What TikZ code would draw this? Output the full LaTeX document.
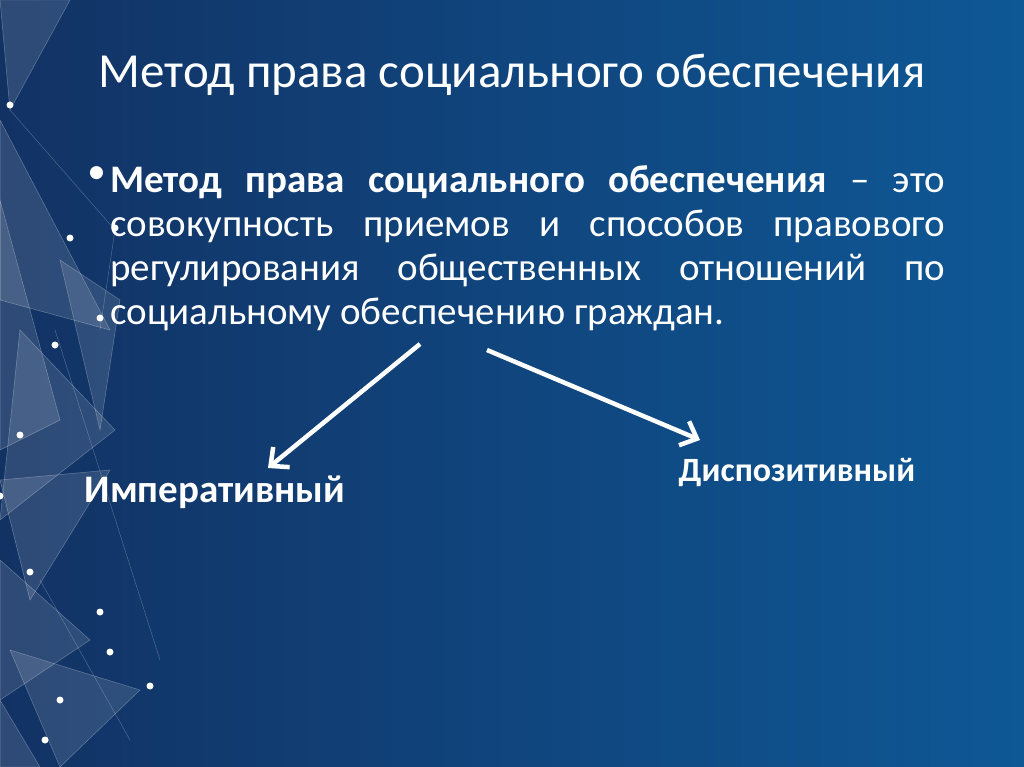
\documentclass[tikz,border=0pt]{standalone}
\usepackage{fontspec}
\setmainfont{Carlito}
\usetikzlibrary{arrows.meta}
\begin{document}
\begin{tikzpicture}[x=1pt,y=-1pt,
  arr/.style={draw=white,line width=4.5pt,-{Straight Barb[length=14pt,width=26pt,line width=4.5pt]}},
  lbl/.style={text=white,font=\bfseries\fontsize{39}{44}\selectfont},
  tri/.style={fill=white,fill opacity=0.12,draw=white,draw opacity=0.3,line width=0.5pt},
  dot/.style={fill=white,circle,inner sep=0pt,minimum size=7pt}]
\useasboundingbox (0,0) rectangle (1024,767);
\shade[left color={rgb,255:red,18;green,50;blue,100},right color={rgb,255:red,14;green,88;blue,150}] (0,0) rectangle (1024,767);
\foreach \a/\b/\c in {{(0,0)}/{(70,0)}/{(10,110)},{(0,120)}/{(110,330)}/{(0,300)},{(0,200)}/{(60,420)}/{(0,450)},{(20,330)}/{(115,430)}/{(0,520)},{(0,480)}/{(110,470)}/{(30,600)},{(0,560)}/{(90,640)}/{(0,700)},{(10,650)}/{(140,690)}/{(60,767)},{(0,700)}/{(40,767)}/{(0,767)},{(60,260)}/{(120,300)}/{(100,430)}}
  \filldraw[tri] \a -- \b -- \c -- cycle;
\draw[white,opacity=0.3] (10,110) -- (115,230) -- (100,330) (40,580) -- (130,740) (55,330)--(160,660);
\foreach \p in {(10,105),(115,228),(70,238),(55,345),(100,318),(0,496),(30,572),(100,612),(110,652),(150,686),(60,700),(45,740),(20,435)}
  \node[dot] at \p {};
\node[text=white,font=\fontsize{49}{56}\selectfont] (title) at (512,75) {Метод права социального обеспечения};
\node[text=white,font=\fontsize{39}{44}\selectfont,text width=835pt,align=justify,anchor=north west,inner sep=0pt] (body) at (110,165)
 {\textbf{Метод права социального обеспечения} – это совокупность приемов и способов правового регулирования общественных отношений по социальному обеспечению граждан.};
\node[text=white,font=\fontsize{37}{44}\selectfont,anchor=north east,inner sep=0pt] (bul) at (106,166) {•};
\node[lbl] (imp) at (215,492) {Императивный};
\node[lbl,font=\bfseries\fontsize{34}{40}\selectfont] (disp) at (797,472) {Диспозитивный};
\coordinate (s1) at (420,344);
\coordinate (s2) at (487,350);
\coordinate (e1) at (268,468);
\coordinate (e2) at (700,440);
\draw[arr] (s1) -- (e1);
\draw[arr] (s2) -- (e2);
\end{tikzpicture}
\end{document}
